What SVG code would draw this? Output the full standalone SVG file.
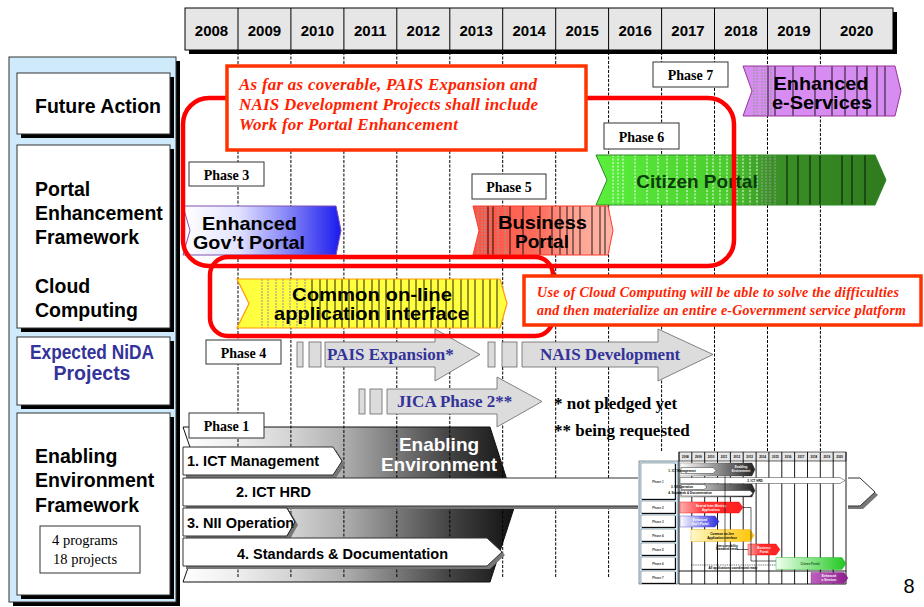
<svg xmlns="http://www.w3.org/2000/svg" xmlns:xlink="http://www.w3.org/1999/xlink" width="924" height="607" viewBox="0 0 924 607">
<style>
.yr{font-family:"Liberation Sans",Arial,sans-serif;font-weight:bold;font-size:15px;text-anchor:middle}
.cell{fill:#e6e6e6;stroke:#000;stroke-width:1}
.grid{fill:none;stroke:#000;stroke-width:1;stroke-dasharray:3 1.5}
.side{font-family:"Liberation Sans",Arial,sans-serif;font-weight:bold;font-size:19.5px}
.ibox{fill:#fff;stroke:#333;stroke-width:1}
.ph{fill:#fff;stroke:#333;stroke-width:1}
.pht{font-family:"Liberation Serif","Times New Roman",serif;font-weight:bold;font-size:14px;text-anchor:middle}
.hl{fill:none;stroke:#ff0000;stroke-width:4.5}
.note{fill:#fff;stroke:#ff3300;stroke-width:3.5}
.notet{font-family:"Liberation Serif","Times New Roman",serif;font-style:italic;font-weight:bold;fill:#ff2200}
.big{font-family:"Liberation Sans",Arial,sans-serif;font-weight:bold;font-size:19px;text-anchor:middle}
.proj{fill:#dcdcdc;stroke:#666;stroke-width:0.8}
.pt{font-family:"Liberation Serif","Times New Roman",serif;font-weight:bold;font-size:17px;fill:#333399}
.bar{fill:#fff;stroke:#333;stroke-width:1}
.bt{font-family:"Liberation Sans",Arial,sans-serif;font-weight:bold;font-size:14.5px}
.blk{fill:none;stroke:#000;stroke-width:1;opacity:.85}
.wht{fill:none;stroke:#fff;stroke-width:1.2;stroke-dasharray:2 1.5;opacity:.8}
.gry{fill:none;stroke:#999;stroke-width:1.2;stroke-dasharray:2 1;opacity:.9}
.tiny{font-family:"Liberation Sans",Arial,sans-serif;font-weight:bold;font-size:3px;text-anchor:middle}
.mini{fill:none;stroke:#000;stroke-width:0.9}
</style>
<defs>
  <linearGradient id="gGreen" gradientUnits="userSpaceOnUse" x1="596" y1="0" x2="886" y2="0">
    <stop offset="0" stop-color="#5af03c"/><stop offset="0.45" stop-color="#4ccc2e"/>
    <stop offset="0.6" stop-color="#3a9226"/><stop offset="1" stop-color="#2f7a1e"/>
  </linearGradient>
  <linearGradient id="gBlue" gradientUnits="userSpaceOnUse" x1="183" y1="0" x2="341" y2="0">
    <stop offset="0" stop-color="#ffffff"/><stop offset="0.35" stop-color="#e2e2ff"/>
    <stop offset="0.75" stop-color="#6a6af5"/><stop offset="1" stop-color="#1a1aee"/>
  </linearGradient>
  <linearGradient id="gSalmon" gradientUnits="userSpaceOnUse" x1="473" y1="0" x2="613" y2="0">
    <stop offset="0" stop-color="#ff5040"/><stop offset="0.5" stop-color="#ff7060"/>
    <stop offset="0.7" stop-color="#ffa090"/><stop offset="1" stop-color="#ffb8a8"/>
  </linearGradient>
  <linearGradient id="gEnv" gradientUnits="userSpaceOnUse" x1="183" y1="0" x2="515" y2="0">
    <stop offset="0" stop-color="#ffffff"/><stop offset="0.16" stop-color="#eeeeee"/>
    <stop offset="0.32" stop-color="#d4d4d4"/><stop offset="0.48" stop-color="#b0b0b0"/>
    <stop offset="0.64" stop-color="#7a7a7a"/><stop offset="0.8" stop-color="#444"/>
    <stop offset="1" stop-color="#111"/>
  </linearGradient>
  <linearGradient id="mGray" x1="0" y1="0" x2="1" y2="0">
    <stop offset="0" stop-color="#fff"/><stop offset="1" stop-color="#222"/>
  </linearGradient>
  <linearGradient id="mRed" x1="0" y1="0" x2="1" y2="0">
    <stop offset="0" stop-color="#ffb0b0"/><stop offset="0.4" stop-color="#ff3030"/><stop offset="1" stop-color="#ff2020"/>
  </linearGradient>
  <linearGradient id="mBlue" x1="0" y1="0" x2="1" y2="0">
    <stop offset="0" stop-color="#ffffff"/><stop offset="1" stop-color="#2a2ae0"/>
  </linearGradient>
  <linearGradient id="mYel" x1="0" y1="0" x2="1" y2="0">
    <stop offset="0" stop-color="#fff8c8"/><stop offset="1" stop-color="#ffc400"/>
  </linearGradient>
  <linearGradient id="mGreen" x1="0" y1="0" x2="1" y2="0">
    <stop offset="0" stop-color="#f0fff0"/><stop offset="1" stop-color="#20c820"/>
  </linearGradient>
  <linearGradient id="mPurp" x1="0" y1="0" x2="1" y2="0">
    <stop offset="0" stop-color="#c060c0"/><stop offset="1" stop-color="#8a1f8a"/>
  </linearGradient>

  <polygon id="shpEsv" points="743,66 895,66 901,91 895,116 743,116 752,91"/>
  <polygon id="shpCit" points="596,155 875,155 886,180 875,205 596,205 607,180"/>
  <polygon id="shpGov" points="183,206 336,206 341,230.5 336,255 183,255 190,230.5"/>
  <polygon id="shpBiz" points="473,206 608,206 613,230.5 608,255 473,255 479,230.5"/>
  <polygon id="shpCom" points="237,279 500,279 507,303.5 500,328 237,328 249,303.5"/>
  <clipPath id="cEsv"><use xlink:href="#shpEsv"/></clipPath>
  <clipPath id="cCit"><use xlink:href="#shpCit"/></clipPath>
  <clipPath id="cBiz"><use xlink:href="#shpBiz"/></clipPath>
  <clipPath id="cCom"><use xlink:href="#shpCom"/></clipPath>
</defs>

<rect width="924" height="607" fill="#fff"/>

<!-- year header -->
<g id="year-header">
  <rect x="189" y="12" width="708" height="42" fill="#000"/>
  <rect x="185" y="8" width="708" height="42" class="cell"/>
  <path d="M238 8V50M290.9 8V50M343.9 8V50M396.8 8V50M449.8 8V50M502.7 8V50M555.7 8V50M608.6 8V50M661.6 8V50M714.5 8V50M767.5 8V50M820.4 8V50" stroke="#000" stroke-width="1"/>
  <text class="yr" x="211.5" y="35.5">2008</text>
  <text class="yr" x="264.4" y="35.5">2009</text>
  <text class="yr" x="317.4" y="35.5">2010</text>
  <text class="yr" x="370.3" y="35.5">2011</text>
  <text class="yr" x="423.3" y="35.5">2012</text>
  <text class="yr" x="476.2" y="35.5">2013</text>
  <text class="yr" x="529.2" y="35.5">2014</text>
  <text class="yr" x="582.1" y="35.5">2015</text>
  <text class="yr" x="635.1" y="35.5">2016</text>
  <text class="yr" x="688" y="35.5">2017</text>
  <text class="yr" x="741" y="35.5">2018</text>
  <text class="yr" x="793.9" y="35.5">2019</text>
  <text class="yr" x="856.7" y="35.5">2020</text>
</g>

<!-- row titles -->
<g id="row-titles">
  <rect x="13" y="61" width="167" height="545" fill="#000"/>
  <rect x="9" y="57" width="167" height="545" fill="#cfeafa" stroke="#333" stroke-width="1"/>
  <g id="row-future">
    <rect x="21" y="77" width="153" height="61" fill="#000"/>
    <rect x="17" y="73" width="153" height="61" class="ibox"/>
    <text class="side" x="35" y="113">Future Action</text>
  </g>
  <g id="row-portal">
    <rect x="21" y="149" width="153" height="183" fill="#000"/>
    <rect x="17" y="145" width="153" height="183" class="ibox"/>
    <text class="side" x="35" y="196">Portal</text>
    <text class="side" x="35" y="220">Enhancement</text>
    <text class="side" x="35" y="244">Framework</text>
    <text class="side" x="35" y="292.5">Cloud</text>
    <text class="side" x="35" y="316.5">Computing</text>
  </g>
  <g id="row-nida">
    <rect x="21" y="341" width="153" height="68" fill="#000"/>
    <rect x="17" y="337" width="153" height="68" class="ibox"/>
    <text class="side" x="92" y="358.5" text-anchor="middle" fill="#333399" font-size="16.5" textLength="124" lengthAdjust="spacingAndGlyphs">Expected NiDA</text>
    <text class="side" x="92" y="380" text-anchor="middle" fill="#333399" font-size="16.5">Projects</text>
  </g>
  <g id="row-enabling">
    <rect x="21" y="417" width="153" height="182" fill="#000"/>
    <rect x="17" y="413" width="153" height="182" class="ibox"/>
    <text class="side" x="35" y="463">Enabling</text>
    <text class="side" x="35" y="487">Environment</text>
    <text class="side" x="35" y="511.5">Framework</text>
    <rect x="40" y="526" width="100" height="47" fill="#fff" stroke="#333" stroke-width="1"/>
    <text x="52" y="545" font-family="'Liberation Serif','Times New Roman',serif" font-size="14.5">4 programs</text>
    <text x="53" y="563.5" font-family="'Liberation Serif','Times New Roman',serif" font-size="14.5">18 projects</text>
  </g>
</g>

<!-- enabling environment block (background of the programs) -->
<g id="enabling-environment">
  <polygon points="183,427 490,427 515,505 490,582 183,582 210,505" fill="url(#gEnv)" stroke="#111" stroke-width="1"/>
</g>

<!-- year grid -->
<g id="year-grid">
  <path class="grid" d="M238 52V578M290.9 52V578M343.9 52V578M396.8 52V578M449.8 52V578M502.7 52V578M555.7 52V578M608.6 52V578M661.6 52V578M714.5 52V578M767.5 52V578M820.4 52V578"/>
</g>

<g id="enabling-text">
  <text class="big" x="439" y="450.5" fill="#fff" font-size="17.5">Enabling</text>
  <text class="big" x="439" y="470.5" fill="#fff" font-size="17.5">Environment</text>
</g>

<!-- Phase 7 -->
<g id="phase7">
  <rect x="653" y="62" width="75" height="25" class="ph"/>
  <text class="pht" x="690.5" y="80">Phase 7</text>
</g>
<g id="enhanced-eservices">
  <use xlink:href="#shpEsv" fill="#d68cf0"/>
  <g clip-path="url(#cEsv)">
    <path class="gry" d="M754 66V116M757 66V116M762 66V116M765 66V116M771 66V116"/>
    <path class="blk" d="M768 66V116M775 66V116M793 66V116M815 66V116M832 66V116M845 66V116M857 66V116M867 66V116M877 66V116M885 66V116"/>
  </g>
  <use xlink:href="#shpEsv" fill="none" stroke="#993399" stroke-width="1"/>
  <text class="big" x="821" y="90" font-size="19.5" textLength="95" lengthAdjust="spacingAndGlyphs">Enhanced</text>
  <text class="big" x="822" y="109" font-size="19.5" textLength="100" lengthAdjust="spacingAndGlyphs">e-Services</text>
</g>

<!-- Phase 6 -->
<g id="phase6">
  <rect x="604" y="123" width="75" height="26" class="ph"/>
  <text class="pht" x="641.5" y="141.5">Phase 6</text>
</g>
<g id="citizen-portal">
  <use xlink:href="#shpCit" fill="url(#gGreen)"/>
  <g clip-path="url(#cCit)">
    <path class="wht" d="M613 155V205M618 155V205M623 155V205M635 155V205M647 155V205M658 155V205M667 155V205M677 155V205M687 155V205M695 155V205M707 155V205M713 155V205M720 155V205M727 155V205M737 155V205M743 155V205M750 155V205M757 155V205"/>
    <path class="gry" d="M762 155V205M766 155V205M770 155V205M775 155V205"/>
    <path class="blk" d="M787 155V205M798 155V205M810 155V205M820 155V205M842 155V205M852 155V205M865 155V205"/>
  </g>
  <use xlink:href="#shpCit" fill="none" stroke="#2b8a22" stroke-width="1"/>
  <text class="big" x="697" y="188" fill="#0a3d0a" font-size="20">Citizen Portal</text>
</g>

<!-- Phase 3 -->
<g id="phase3">
  <rect x="189" y="162" width="75" height="24" class="ph"/>
  <text class="pht" x="226.5" y="180">Phase 3</text>
</g>
<g id="enhanced-govt-portal">
  <use xlink:href="#shpGov" fill="url(#gBlue)" stroke="#8050b0" stroke-width="1"/>
  <text class="big" x="249.5" y="229.5" textLength="95" lengthAdjust="spacingAndGlyphs">Enhanced</text>
  <text class="big" x="249" y="248.5" textLength="112" lengthAdjust="spacingAndGlyphs">Gov’t Portal</text>
</g>

<!-- Phase 5 -->
<g id="phase5">
  <rect x="472" y="174" width="74" height="25" class="ph"/>
  <text class="pht" x="509" y="192">Phase 5</text>
</g>
<g id="business-portal">
  <use xlink:href="#shpBiz" fill="url(#gSalmon)"/>
  <g clip-path="url(#cBiz)">
    <path class="gry" d="M478 206V255M482 206V255M485 206V255M490 206V255M498 206V255M505 206V255"/>
    <path class="blk" d="M488 206V255M493 206V255M510 206V255M523 206V255M540 206V255M552 206V255M560 206V255M567 206V255M573 206V255M580 206V255M592 206V255M600 206V255M605 206V255"/>
  </g>
  <use xlink:href="#shpBiz" fill="none" stroke="#ff3b2b" stroke-width="1"/>
  <text class="big" x="542.5" y="228.5" textLength="89" lengthAdjust="spacingAndGlyphs">Business</text>
  <text class="big" x="542" y="248">Portal</text>
</g>

<!-- common on-line application interface -->
<g id="common-online">
  <use xlink:href="#shpCom" fill="#ffff40"/>
  <g clip-path="url(#cCom)">
    <path class="gry" d="M262 279V328M268 279V328M276 279V328M283 279V328M290 279V328M297 279V328M305 279V328"/>
    <path class="blk" stroke-width="0.8" d="M312 279V328M320 279V328M327 279V328M335 279V328M342 279V328M349 279V328M357 279V328M364 279V328M372 279V328M379 279V328M386 279V328M394 279V328M401 279V328M409 279V328M416 279V328M424 279V328M431 279V328M438 279V328M446 279V328M453 279V328M461 279V328M468 279V328M475 279V328M483 279V328M490 279V328M497 279V328"/>
  </g>
  <use xlink:href="#shpCom" fill="none" stroke="#ff9900" stroke-width="1.2"/>
  <text class="big" x="372" y="300.5" font-size="18.5" textLength="160" lengthAdjust="spacingAndGlyphs">Common on-line</text>
  <text class="big" x="371.5" y="319.5" font-size="18.5" textLength="195" lengthAdjust="spacingAndGlyphs">application interface</text>
</g>

<!-- Phase 4 / NiDA projects -->
<g id="phase4">
  <rect x="206" y="340" width="75" height="24" class="ph"/>
  <text class="pht" x="243.5" y="358">Phase 4</text>
</g>
<g id="pais-expansion">
  <rect x="297" y="342" width="6" height="25" class="proj"/>
  <rect x="309" y="342" width="12" height="25" class="proj"/>
  <polygon points="325,342 435,342 435,329 480,354.5 435,381 435,367 325,367" class="proj"/>
  <text class="pt" x="327" y="359.5">PAIS Expansion*</text>
</g>
<g id="nais-development">
  <rect x="488" y="342" width="7" height="25" class="proj"/>
  <rect x="502" y="342" width="15" height="25" class="proj"/>
  <polygon points="522,342 658,342 658,329 713,354.5 658,381 658,367 522,367" class="proj"/>
  <text class="pt" x="540" y="359.5">NAIS Development</text>
</g>
<g id="jica-phase2">
  <rect x="359" y="389" width="6" height="25" class="proj"/>
  <rect x="370" y="389" width="12" height="25" class="proj"/>
  <polygon points="387,389 497,389 497,377 542,401.5 497,427 497,414 387,414" class="proj"/>
  <text class="pt" x="397" y="406.5">JICA Phase 2**</text>
</g>
<g id="footnotes" font-family="'Liberation Serif','Times New Roman',serif" font-weight="bold" font-size="17">
  <text x="554" y="408.5">* not pledged yet</text>
  <text x="554" y="436">** being requested</text>
</g>

<!-- enabling environment programs -->
<g id="programs">
  <g fill="#777">
    <polygon points="186,450 336,450 345,464 336,478 186,478"/>
    <polygon points="186,481 863,481 878,495 863,509 186,509"/>
    <polygon points="186,511 290,511 298,525 290,539 186,539"/>
    <polygon points="186,541 490,541 505,555 490,569 186,569"/>
  </g>
  <g id="prog-ict-management">
    <polygon points="183,447 333,447 342,461 333,475 183,475" class="bar"/>
    <text class="bt" x="187" y="466">1. ICT Management</text>
  </g>
  <g id="prog-ict-hrd">
    <polygon points="183,478 860,478 875,492 860,506 183,506" class="bar"/>
    <text class="bt" x="236" y="497">2. ICT HRD</text>
  </g>
  <g id="prog-nii-operation">
    <polygon points="183,508 287,508 295,522 287,536 183,536" class="bar"/>
    <text class="bt" x="187" y="527.5">3. NII Operation</text>
    <polyline points="287,508 295,522 287,536" fill="none" stroke="#333" stroke-width="1"/>
  </g>
  <g id="prog-standards">
    <polygon points="183,538 487,538 502,552 487,566 183,566" class="bar"/>
    <text class="bt" x="237" y="558.5">4. Standards &amp; Documentation</text>
  </g>
</g>
<g id="phase1">
  <rect x="189" y="413" width="75" height="25" class="ph"/>
  <text class="pht" x="226.5" y="431">Phase 1</text>
</g>

<!-- highlight frames -->
<g id="highlights">
  <rect x="183" y="98" width="551" height="168" rx="26" class="hl"/>
  <rect x="210" y="257" width="343" height="79" rx="18" class="hl"/>
</g>
<g id="portal-note">
  <rect x="227" y="66" width="359" height="84" class="note"/>
  <text class="notet" x="239" y="90" font-size="17" textLength="298">As far as coverable, PAIS Expansion and</text>
  <text class="notet" x="239" y="110" font-size="17" textLength="299">NAIS Development Projects shall include</text>
  <text class="notet" x="239" y="130" font-size="17" textLength="219">Work for Portal Enhancement</text>
</g>
<g id="cloud-note">
  <rect x="524" y="276" width="397" height="49" class="note"/>
  <text class="notet" x="537" y="297" font-size="14" textLength="362">Use of Cloud Computing  will be able to solve the difficulties</text>
  <text class="notet" x="537" y="315" font-size="14" textLength="369">and then materialize an entire e-Government service platform</text>
</g>

<!-- miniature roadmap -->
<g id="inset-roadmap">
  <rect x="638" y="451" width="210" height="134" fill="#fff"/>
  <rect x="639" y="461" width="39" height="123" fill="#cfeafa" stroke="#333" stroke-width="0.5"/>
  <g fill="#000">
    <rect x="642" y="464" width="34" height="36"/><rect x="642" y="502" width="34" height="12"/>
    <rect x="642" y="516" width="34" height="12"/><rect x="642" y="530" width="34" height="12"/>
    <rect x="642" y="544" width="34" height="12"/><rect x="642" y="558" width="34" height="12"/>
    <rect x="642" y="572" width="34" height="12"/>
  </g>
  <g fill="#fff" stroke="#333" stroke-width="0.4">
    <rect x="641" y="463" width="34" height="36"/><rect x="641" y="501" width="34" height="12"/>
    <rect x="641" y="515" width="34" height="12"/><rect x="641" y="529" width="34" height="12"/>
    <rect x="641" y="543" width="34" height="12"/><rect x="641" y="557" width="34" height="12"/>
    <rect x="641" y="571" width="34" height="12"/>
  </g>
  <g class="tiny" font-size="4" fill="#333">
    <text x="658" y="483">Phase 1</text><text x="658" y="508.5">Phase 2</text>
    <text x="658" y="522.5">Phase 3</text><text x="658" y="536.5">Phase 4</text>
    <text x="658" y="550.5">Phase 5</text><text x="658" y="564.5">Phase 6</text>
    <text x="658" y="578.5">Phase 7</text>
  </g>
  <rect x="679" y="452" width="167" height="9" fill="#e6e6e6" stroke="#000" stroke-width="0.6"/>
  <path class="mini" d="M691.8 452V584M704.7 452V584M717.5 452V584M730.4 452V584M743.2 452V584M756.1 452V584M768.9 452V584M781.8 452V584M794.6 452V584M807.5 452V584M820.3 452V584M833.2 452V584M679 452V584M846 452V584M679 571H846M679 584H846"/>
  <g class="tiny">
    <text x="685.4" y="458">2008</text><text x="698.3" y="458">2009</text><text x="711.1" y="458">2010</text>
    <text x="724" y="458">2011</text><text x="736.8" y="458">2012</text><text x="749.7" y="458">2013</text>
    <text x="762.5" y="458">2014</text><text x="775.4" y="458">2015</text><text x="788.2" y="458">2016</text>
    <text x="801.1" y="458">2017</text><text x="813.9" y="458">2018</text><text x="826.8" y="458">2019</text>
    <text x="839.6" y="458">2020</text>
  </g>
  <polygon points="680,463 752,463 755,469.5 752,476 680,476" fill="url(#mGray)" stroke="#333" stroke-width="0.3"/>
  <polygon points="680,484 752,484 755,490.5 752,497 680,497" fill="url(#mGray)" stroke="#333" stroke-width="0.3"/>
  <text class="tiny" x="741" y="468" fill="#fff">Enabling</text>
  <text class="tiny" x="741" y="472" fill="#fff">Environment</text>
  <g fill="#fff" stroke="#000" stroke-width="0.4">
    <polygon points="681,467.5 713,467.5 716,470.5 713,473.5 681,473.5"/>
    <polygon points="680,477.5 840,477.5 845,480.5 840,483.5 680,483.5"/>
    <polygon points="681,484.5 704,484.5 707,487 704,489.5 681,489.5"/>
    <polygon points="681,490.5 750,490.5 753,493.3 750,496 681,496"/>
  </g>
  <g class="tiny" font-size="2.6" text-anchor="start">
    <text x="682" y="471.5">1. ICT Management</text>
    <text x="755" y="481.5">2. ICT HRD</text>
    <text x="682" y="488.3">3. NII Operation</text>
    <text x="690" y="494.3">4. Standards &amp; Documentation</text>
  </g>
  <polygon points="680,502 739,502 743,507.5 739,513 680,513" fill="url(#mRed)" stroke="#e00" stroke-width="0.4"/>
  <text class="tiny" x="711" y="506.5" fill="#fff">Several Inter-Ministry</text>
  <text class="tiny" x="711" y="510.5" fill="#fff">Applications</text>
  <polygon points="680,516 715,516 719,521.5 715,527 680,527" fill="url(#mBlue)" stroke="#33c" stroke-width="0.4"/>
  <text class="tiny" x="700" y="520.5" fill="#fff">Enhanced</text>
  <text class="tiny" x="700" y="524.5" fill="#fff">Gov’t Portal</text>
  <polygon points="691,529.5 750,529.5 754,535.5 750,541.5 691,541.5" fill="url(#mYel)" stroke="#e8a000" stroke-width="0.4"/>
  <text class="tiny" x="722" y="534.5">Common on-line</text>
  <text class="tiny" x="722" y="538.5">Application interface</text>
  <polygon points="748,544 776,544 780,549.5 776,555 748,555" fill="url(#mRed)" stroke="#e00" stroke-width="0.4"/>
  <text class="tiny" x="764" y="548.5" fill="#fff">Business</text>
  <text class="tiny" x="764" y="552.5" fill="#fff">Portal</text>
  <polygon points="776,557.5 842,557.5 846,563.5 842,569.5 776,569.5" fill="url(#mGreen)" stroke="#1a1" stroke-width="0.4"/>
  <text class="tiny" x="810" y="564.5" fill="#1a5a1a">Citizen Portal</text>
  <polygon points="811,572.5 844,572.5 848,578 844,583.5 811,583.5" fill="url(#mPurp)" stroke="#802080" stroke-width="0.4"/>
  <text class="tiny" x="829" y="577" fill="#fff">Enhanced</text>
  <text class="tiny" x="829" y="581" fill="#fff">e-Services</text>
  <g fill="none" stroke="#000" stroke-width="0.6">
    <path d="M725 476V545"/>
    <path d="M743 507.5H751V561H776"/>
    <path d="M737 549.5H748"/>
    <path d="M691 565H776" stroke-dasharray="1 0.8"/>
  </g>
  <text class="tiny" x="727" y="546.5" font-size="2.6">Interoperability</text>
  <text class="tiny" x="727" y="550" font-size="2.6">Standard needs</text>
  <text class="tiny" x="733" y="568.5" font-size="2.6">All applications coordinated ready</text>
</g>

<text x="909" y="593" text-anchor="middle" font-family="'Liberation Sans',Arial,sans-serif" font-size="20">8</text>
</svg>
